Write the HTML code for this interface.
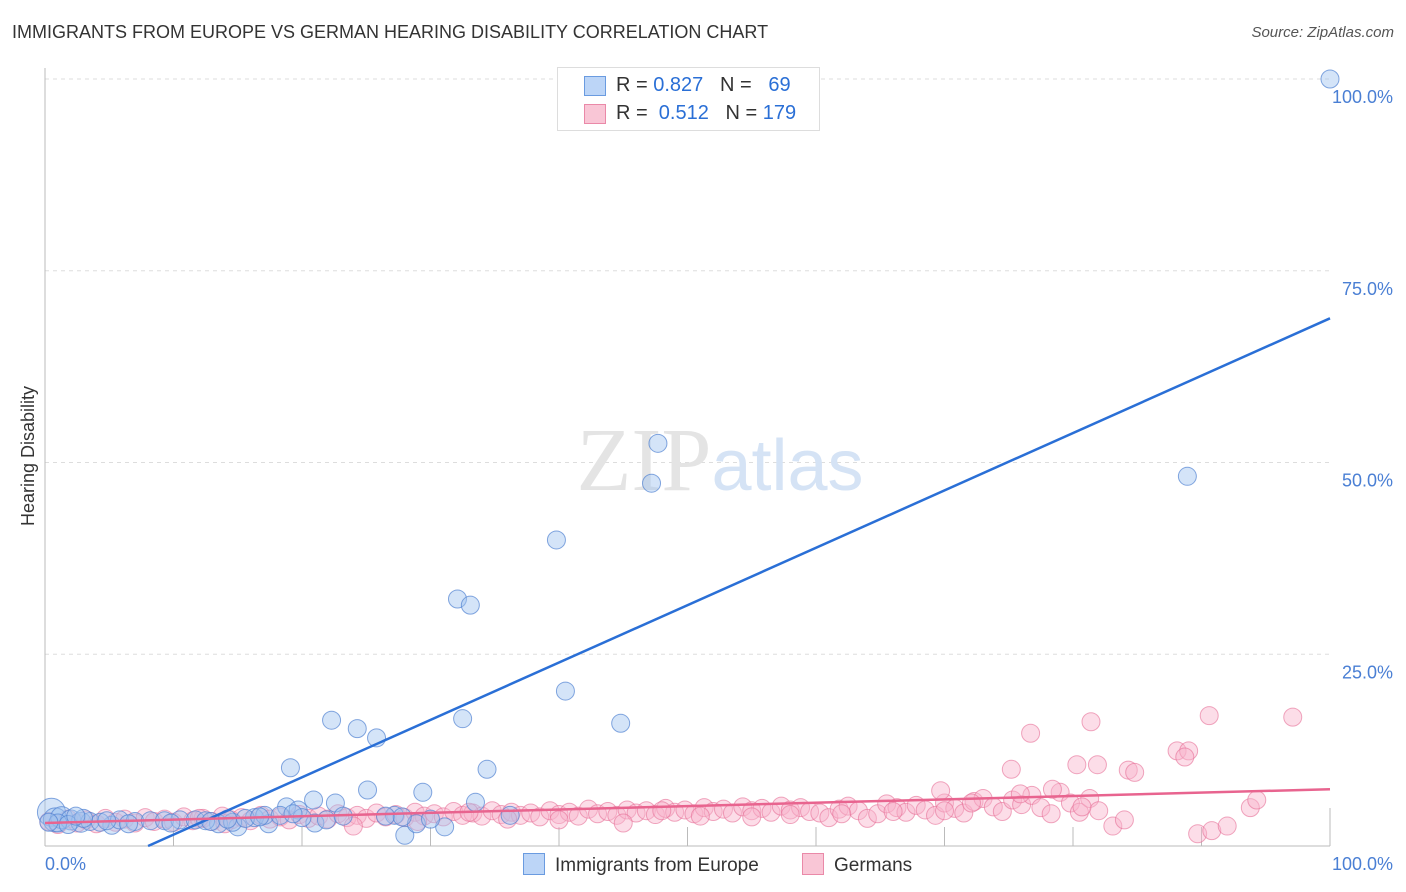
<!DOCTYPE html>
<html><head><meta charset="utf-8"><style>
body{margin:0;background:#fff;font-family:"Liberation Sans",sans-serif;}
#wrap{position:relative;width:1406px;height:892px;overflow:hidden;}
.t{position:absolute;white-space:nowrap;}
</style></head><body>
<div id="wrap">
<div class="t" style="left:12px;top:22px;font-size:18px;color:#333;">IMMIGRANTS FROM EUROPE VS GERMAN HEARING DISABILITY CORRELATION CHART</div>
<div class="t" style="right:12px;top:24px;font-size:15px;color:#555;font-style:italic;">Source: ZipAtlas.com</div>
<svg id="svg" width="1406" height="892" style="position:absolute;left:0;top:0"></svg>
</div>
<script>
const xTicks=[0,10,20,30,40,50,60,70,80,90,100];
const yTicks=[25,50,75,100];
const blueX=[100,88.9,47.7,47.2,39.8,32.1,33.1,40.5,44.8,32.5,22.3,24.3,25.8,19.1,34.4,25.1,29.4,20.9,22.6,33.5,18.8,19.7,28.0,28.9,31.1,17.4,15.0,13.5,14.6,21.0,21.9,20.0,27.2,36.2,5.2,0.5,0.8,1.3,2.0,2.8,3.5,4.3,5.8,7.0,8.2,9.3,10.5,11.7,12.5,16.3,17.1,18.3,15.6,26.5,1.0,1.8,3.0,6.5,9.8,12.9,14.2,16.7,19.3,23.2,27.8,30.0,0.3,2.4,4.8];
const blueY=[100,48.2,52.5,47.3,39.9,32.2,31.4,20.2,16.0,16.6,16.4,15.3,14.1,10.2,10.0,7.3,7.0,6.0,5.6,5.7,5.1,4.7,1.4,2.9,2.5,2.9,2.5,2.9,3.1,3.0,3.4,3.7,4.0,4.0,2.7,4.4,3.4,3.7,3.4,3.1,3.2,3.1,3.4,3.2,3.3,3.3,3.4,3.4,3.3,3.7,4.0,4.0,3.6,3.9,3.0,2.8,3.6,2.9,3.0,3.2,3.5,3.8,4.2,3.9,3.8,3.5,3.1,3.9,3.3];
const blueR=[9,9,9,9,9,9,9,9,9,9,9,9,9,9,9,9,9,9,9,9,9,9,9,9,9,9,9,9,9,9,9,9,9,9,9,14,12,11,10,10,9,9,9,9,9,9,9,9,9,9,9,9,9,9,9,9,9,9,9,9,9,9,9,9,9,9,9,9,9];
const pinkX=[0.3,1,1.8,2.5,3.2,4,4.7,5.5,6.2,7,7.8,8.5,9.3,10,10.8,11.5,12.3,13,13.8,14.5,15.3,16,16.8,17.5,18.3,19,19.8,20.5,21.3,22,22.8,23.5,24.3,25,25.8,26.5,27.3,28,28.8,29.5,30.3,31,31.8,32.5,33.3,34,34.8,35.5,36.3,37,37.8,38.5,39.3,40,40.8,41.5,42.3,43,43.8,44.5,45.3,46,46.8,47.5,48.3,49,49.8,50.5,51.3,52,52.8,53.5,54.3,55,55.8,56.5,57.3,58,58.8,59.5,60.3,61,61.8,62.5,63.3,64,64.8,65.5,66.3,67,67.8,68.5,69.3,70,70.8,71.5,72.3,73,73.8,74.5,75.3,76,76.8,77.5,78.3,79,79.8,80.5,81.3,82,76.7,81.4,90.6,97.1,88.1,89.0,88.7,75.2,80.3,81.9,84.3,84.8,69.7,75.9,78.4,72.1,89.7,90.8,92.0,83.1,84.0,93.8,94.3,80.7,24,36,45,55,62,70,14,29,40,51,58,66,12,33,48];
const pinkY=[3.2,2.8,3.5,3.0,3.4,2.9,3.6,3.1,3.5,3.0,3.7,3.2,3.5,3.1,3.8,3.3,3.6,3.2,3.9,3.4,3.7,3.3,4.0,3.5,3.8,3.4,4.1,3.6,3.9,3.5,4.2,3.7,4.0,3.6,4.3,3.8,4.1,3.7,4.4,3.9,4.2,3.8,4.5,4.0,4.3,3.9,4.6,4.1,4.4,4.0,4.3,3.8,4.6,4.1,4.4,3.9,4.8,4.2,4.5,4.0,4.7,4.3,4.6,4.1,4.9,4.4,4.7,4.2,5.0,4.5,4.8,4.3,5.1,4.6,4.9,4.4,5.2,4.7,5.0,4.5,4.3,3.7,4.8,5.2,4.6,3.6,4.2,5.5,5.0,4.4,5.3,4.7,4.0,5.6,4.9,4.3,5.8,6.2,5.1,4.5,6.0,5.4,6.6,5.0,4.2,7.0,5.6,4.4,6.2,4.6,14.7,16.2,17.0,16.8,12.4,12.4,11.6,10.0,10.6,10.6,9.9,9.6,7.2,6.8,7.4,5.6,1.6,2.0,2.6,2.6,3.4,5.0,6.0,5.1,2.6,3.5,3.0,3.8,4.2,4.6,2.9,3.2,3.4,3.9,4.1,4.5,3.6,4.4,4.6];
const blueFit=[-6.0,0.748];
const pinkFit=[3.0,0.044];
const X=v=>45+v*12.85, Y=v=>846-v*7.67;
const svg=document.getElementById('svg');
const NS='http://www.w3.org/2000/svg';
function mk(tag,attrs,parent){const e=document.createElementNS(NS,tag);for(const k in attrs)e.setAttribute(k,attrs[k]);(parent||svg).appendChild(e);return e;}
// grid
yTicks.forEach(v=>{
 const g=mk('line',{x1:45,x2:1330,y1:Y(v),y2:Y(v),stroke:'#ddd','stroke-dasharray':'4,4'});
 
 
 const t=mk('text',{x:1393,y:Y(v)+24,'text-anchor':'end','font-size':18,fill:'#4a7fd4','font-family':'Liberation Sans'});
 t.textContent=v.toFixed(1)+'%';
 
 
});
const ax=mk('line',{x1:45,x2:45,y1:68,y2:846,stroke:'#bbb'});


const bx=mk('line',{x1:45,x2:1330,y1:846,y2:846,stroke:'#bbb'});


xTicks.forEach(v=>{
 const tk=mk('line',{x1:X(v),x2:X(v),y1:v==100?808:827,y2:846,stroke:'#bbb'});
 
 
});
[[0,'0.0%','start',45],[100,'100.0%','end',1393]].forEach(a=>{
 const t=mk('text',{x:a[3],y:870,'text-anchor':a[2],'font-size':18,fill:'#4a7fd4','font-family':'Liberation Sans'});
 t.textContent=a[1];
 
 
});
// watermark
const w=mk('text',{x:720,y:490,'text-anchor':'middle','font-size':90,'font-family':'Liberation Serif',fill:'#e4e4e4'});
w.innerHTML='ZIP<tspan font-family="Liberation Sans" font-size="72" fill="#d5e3f5">atlas</tspan>';


const yl=mk('text',{x:34,y:456,'text-anchor':'middle','font-size':18,fill:'#333',transform:'rotate(-90 34 456)','font-family':'Liberation Sans'});
yl.textContent='Hearing Disability';


pinkX.forEach((x,i)=>{
 const c=mk('circle',{cx:X(x),cy:Y(pinkY[i]),r:9,fill:'rgba(248,180,205,0.45)',stroke:'rgba(230,110,150,0.6)','stroke-width':1});
 
 
});
blueX.forEach((x,i)=>{
 const c=mk('circle',{cx:X(x),cy:Y(blueY[i]),r:blueR[i],fill:'rgba(160,195,240,0.45)',stroke:'rgba(80,130,210,0.7)','stroke-width':1});
 
 
});
const x0=-blueFit[0]/blueFit[1];
const bl=mk('line',{x1:X(x0),y1:Y(0),x2:X(100),y2:Y(blueFit[0]+blueFit[1]*100),stroke:'#2a6fd6','stroke-width':2.5});


const pl=mk('line',{x1:X(0),y1:Y(pinkFit[0]),x2:X(100),y2:Y(pinkFit[0]+pinkFit[1]*100),stroke:'#e8648f','stroke-width':2.5});


</script>
<div class="t" style="left:557px;top:67px;width:261px;height:62px;border:1px solid #ddd;background:#fff;font-size:20px;">
 <div style="position:absolute;left:26px;top:8px;width:20px;height:18px;background:#bcd5f7;border:1px solid #6a9be0"></div>
 <div style="position:absolute;left:58px;top:6px;color:#333">R = <span style="color:#2a6fd6">0.827</span>&nbsp;&nbsp;&nbsp;N = &nbsp;&nbsp;<span style="color:#2a6fd6">69</span></div>
 <div style="position:absolute;left:26px;top:36px;width:20px;height:18px;background:#f9c6d6;border:1px solid #ea89a8"></div>
 <div style="position:absolute;left:58px;top:34px;color:#333">R = &nbsp;<span style="color:#2a6fd6">0.512</span>&nbsp;&nbsp;&nbsp;N = <span style="color:#2a6fd6">179</span></div>
</div>
<div class="t" style="left:523px;top:853px;font-size:19px;color:#333"><span style="display:inline-block;width:20px;height:20px;background:#bcd5f7;border:1px solid #6a9be0;vertical-align:-4px;margin-right:10px"></span>Immigrants from Europe</div>
<div class="t" style="left:802px;top:853px;font-size:19px;color:#333"><span style="display:inline-block;width:20px;height:20px;background:#f9c6d6;border:1px solid #ea89a8;vertical-align:-4px;margin-right:10px"></span>Germans</div>
</body></html>
